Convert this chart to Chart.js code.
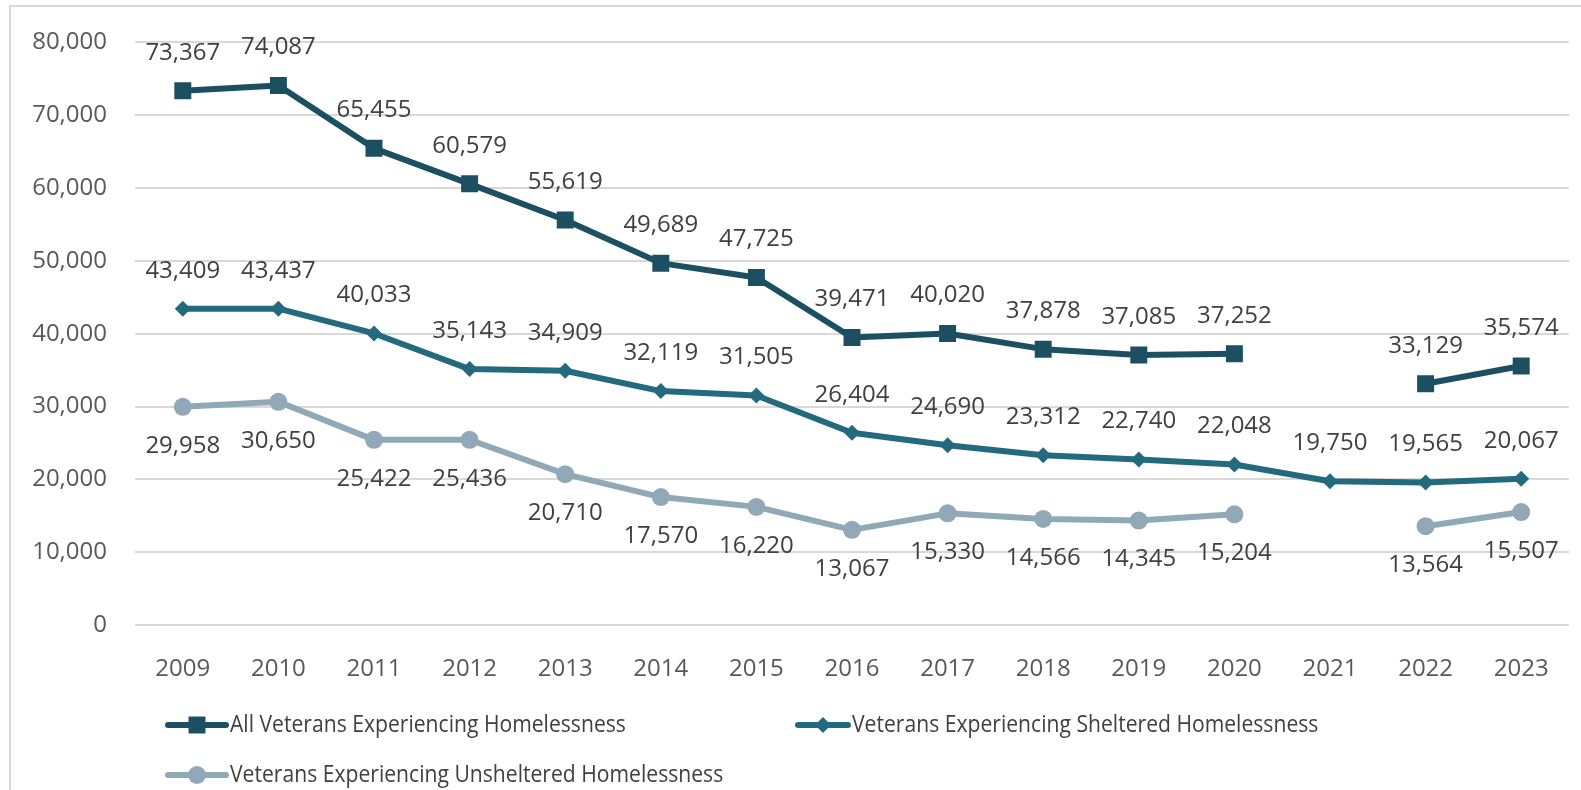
<!DOCTYPE html>
<html>
<head>
<meta charset="utf-8">
<script src="https://cdn.jsdelivr.net/npm/chart.js@4.4.1/dist/chart.umd.min.js"></script>
<style>
  html, body { margin: 0; padding: 0; background: #ffffff; }
  #wrap { position: relative; width: 1581px; height: 790px; }
</style>
</head>
<body>
<div id="wrap"><canvas id="c" width="1581" height="790"></canvas></div>
<script>
const years = ['2009','2010','2011','2012','2013','2014','2015','2016','2017','2018','2019','2020','2021','2022','2023'];
const allVeterans = [73367, 74087, 65455, 60579, 55619, 49689, 47725, 39471, 40020, 37878, 37085, 37252, null, 33129, 35574];
const shelteredVeterans = [43409, 43437, 40033, 35143, 34909, 32119, 31505, 26404, 24690, 23312, 22740, 22048, 19750, 19565, 20067];
const unshelteredVeterans = [29958, 30650, 25422, 25436, 20710, 17570, 16220, 13067, 15330, 14566, 14345, 15204, null, 13564, 15507];
const seriesNames = ['All Veterans Experiencing Homelessness', 'Veterans Experiencing Sheltered Homelessness', 'Veterans Experiencing Unsheltered Homelessness'];
const yTicks = [0, 10000, 20000, 30000, 40000, 50000, 60000, 70000, 80000];

const FONT = "'Open Sans', 'DejaVu Sans', sans-serif";
const C_ALL = '#1c4f62';
const C_SH = '#236a7f';
const C_UN = '#91a9b6';

const fmt = v => v.toLocaleString('en-US');

function drawMarker(ctx, style, r, x, y, color) {
  ctx.save();
  ctx.fillStyle = color;
  ctx.beginPath();
  if (style === 'rect') {
    const s = r * Math.SQRT1_2;
    ctx.rect(x - s, y - s, 2 * s, 2 * s);
  } else if (style === 'rectRot') {
    ctx.moveTo(x, y - r); ctx.lineTo(x + r, y); ctx.lineTo(x, y + r); ctx.lineTo(x - r, y); ctx.closePath();
  } else {
    ctx.arc(x, y, r, 0, Math.PI * 2);
  }
  ctx.fill();
  ctx.restore();
}

const framePlugin = {
  id: 'frame',
  beforeDraw(chart) {
    const ctx = chart.ctx;
    ctx.save();
    ctx.fillStyle = '#ffffff';
    ctx.fillRect(0, 0, chart.width, chart.height);
    ctx.strokeStyle = '#d9d9d9';
    ctx.lineWidth = 2;
    ctx.beginPath();
    ctx.moveTo(10, chart.height + 5);
    ctx.lineTo(10, 6);
    ctx.lineTo(chart.width + 5, 6);
    ctx.stroke();
    ctx.restore();
  }
};

const labelPlugin = {
  id: 'valueLabels',
  afterDatasetsDraw(chart) {
    const ctx = chart.ctx;
    ctx.save();
    ctx.font = '24px ' + FONT;
    ctx.fillStyle = '#404040';
    ctx.textAlign = 'center';
    ctx.textBaseline = 'middle';
    chart.data.datasets.forEach((ds, i) => {
      const meta = chart.getDatasetMeta(i);
      meta.data.forEach((pt, j) => {
        const v = ds.data[j];
        if (v === null || v === undefined) return;
        const dy = ds.labelBelow ? 39 : -38;
        ctx.fillText(fmt(v), pt.x, pt.y + dy);
      });
    });
    ctx.restore();
  }
};

const legendPlugin = {
  id: 'customLegend',
  afterDraw(chart) {
    const ctx = chart.ctx;
    const items = [
      { x: 168, y: 725, len: 58 },
      { x: 798, y: 725, len: 50 },
      { x: 168, y: 775, len: 58 }
    ];
    const targetScale = 0.88;
    chart.data.datasets.forEach((ds, i) => {
      const it = items[i];
      ctx.save();
      ctx.strokeStyle = ds.borderColor;
      ctx.lineWidth = ds.borderWidth;
      ctx.lineCap = 'round';
      ctx.beginPath();
      ctx.moveTo(it.x, it.y);
      ctx.lineTo(it.x + it.len, it.y);
      ctx.stroke();
      drawMarker(ctx, ds.pointStyle, ds.pointRadius, it.x + it.len / 2, it.y, ds.pointBackgroundColor);
      ctx.font = '24px ' + FONT;
      ctx.fillStyle = '#404040';
      ctx.textAlign = 'left';
      ctx.textBaseline = 'middle';
      const tx = it.x + it.len + 4;
      ctx.translate(tx, it.y);
      ctx.scale(targetScale, 1);
      ctx.fillText(ds.label, 0, 0);
      ctx.restore();
    });
  }
};

new Chart(document.getElementById('c'), {
  type: 'line',
  data: {
    labels: years,
    datasets: [
      {
        label: seriesNames[0], data: allVeterans,
        borderColor: C_ALL, backgroundColor: C_ALL, pointBackgroundColor: C_ALL, pointBorderColor: C_ALL,
        borderWidth: 6, pointStyle: 'rect', pointRadius: 12, pointBorderWidth: 0, spanGaps: false, labelBelow: false
      },
      {
        label: seriesNames[1], data: shelteredVeterans,
        borderColor: C_SH, backgroundColor: C_SH, pointBackgroundColor: C_SH, pointBorderColor: C_SH,
        borderWidth: 6, pointStyle: 'rectRot', pointRadius: 8, pointBorderWidth: 0, spanGaps: false, labelBelow: false
      },
      {
        label: seriesNames[2], data: unshelteredVeterans,
        borderColor: C_UN, backgroundColor: C_UN, pointBackgroundColor: C_UN, pointBorderColor: C_UN,
        borderWidth: 6, pointStyle: 'circle', pointRadius: 9, pointBorderWidth: 0, spanGaps: false, labelBelow: true
      }
    ]
  },
  options: {
    responsive: false,
    animation: false,
    devicePixelRatio: 1,
    layout: { padding: { left: 0, top: 40, right: 11, bottom: 0 } },
    plugins: { legend: { display: false }, tooltip: { enabled: false } },
    elements: { line: { tension: 0, borderJoinStyle: 'round', borderCapStyle: 'round' } },
    scales: {
      x: {
        offset: true,
        grid: { display: false, drawTicks: false },
        border: { display: false },
        ticks: { color: '#595959', font: { family: FONT, size: 24 }, padding: 30, maxRotation: 0, autoSkip: false },
        afterFit(scale) { scale.height = 165; }
      },
      y: {
        min: 0, max: 80000,
        afterBuildTicks(scale) { scale.ticks = yTicks.map(v => ({ value: v })); },
        grid: { color: '#d9d9d9', lineWidth: 2, drawTicks: false },
        border: { display: false },
        ticks: { color: '#595959', font: { family: FONT, size: 24 }, padding: 28, callback: v => fmt(v) },
        afterFit(scale) { scale.width = 135; }
      }
    }
  },
  plugins: [framePlugin, labelPlugin, legendPlugin]
});
</script>
</body>
</html>
